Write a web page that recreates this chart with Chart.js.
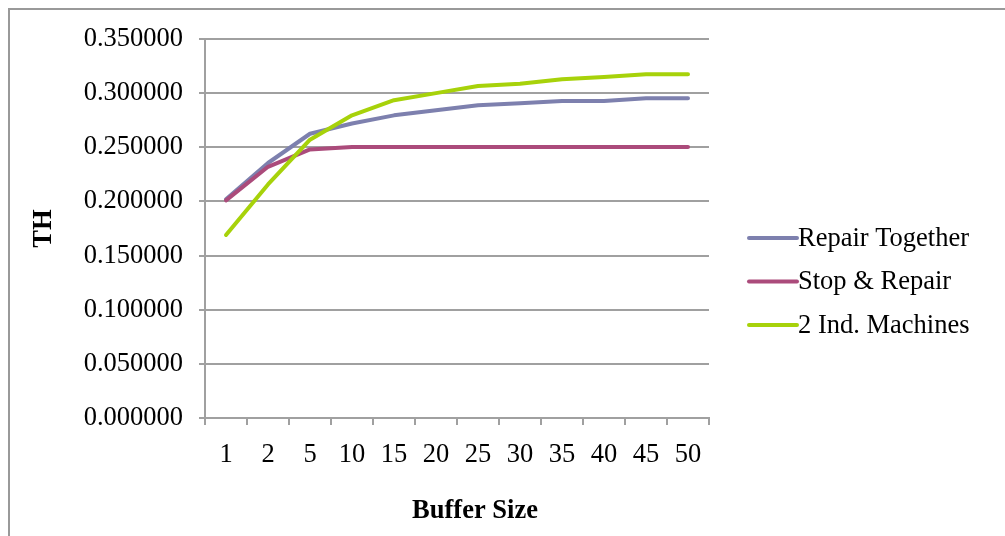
<!DOCTYPE html>
<html>
<head>
<meta charset="utf-8">
<script src="https://cdn.jsdelivr.net/npm/chart.js@4/dist/chart.umd.min.js"></script>
<style>
  html, body { margin: 0; padding: 0; background: #fff; }
  #wrap { position: relative; width: 1005px; height: 536px; }
</style>
</head>
<body>
<div id="wrap"><canvas id="c" width="1005" height="536"></canvas></div>
<script>
// Buffer sizes tested and throughput (TH) for each configuration
const bufferSizes = ['1', '2', '5', '10', '15', '20', '25', '30', '35', '40', '45', '50'];
const repairTogether = [0.2020, 0.2355, 0.2625, 0.2720, 0.2795, 0.2843, 0.2888, 0.2907, 0.2928, 0.2928, 0.2952, 0.2952];
const stopAndRepair  = [0.2010, 0.2320, 0.2480, 0.2503, 0.2503, 0.2503, 0.2503, 0.2503, 0.2503, 0.2503, 0.2503, 0.2503];
const indMachines    = [0.1690, 0.2157, 0.2570, 0.2795, 0.2935, 0.3000, 0.3066, 0.3086, 0.3128, 0.3150, 0.3174, 0.3174];
const seriesNames = ['Repair Together', 'Stop & Repair', '2 Ind. Machines'];
const seriesColors = ['#7d80ae', '#ab4b7b', '#a7d20a'];
const yTicks = { min: 0, max: 0.35, step: 0.05 };

const SERIF = "'Liberation Serif', 'Times New Roman', serif";
const FONT_SIZE = 26.5;
const GRID = '#a0a0a0';

// Outer frame of the chart object
const framePlugin = {
  id: 'frame',
  beforeDraw(chart) {
    const ctx = chart.ctx;
    ctx.save();
    ctx.fillStyle = '#fff';
    ctx.fillRect(0, 0, chart.width, chart.height);
    ctx.strokeStyle = '#999';
    ctx.lineWidth = 2;
    ctx.strokeRect(9, 9, chart.width + 20, chart.height + 20);
    ctx.restore();
  }
};

// Series key to the right of the plot and the horizontal axis caption
const keyPlugin = {
  id: 'key',
  afterDraw(chart) {
    const ctx = chart.ctx;
    const area = chart.chartArea;
    ctx.save();
    ctx.font = FONT_SIZE + 'px ' + SERIF;
    ctx.textBaseline = 'middle';
    ctx.textAlign = 'left';
    const x0 = area.right + 40;
    const firstRow = area.top + 199;
    chart.data.datasets.forEach((ds, i) => {
      const y = firstRow + i * 43.5;
      ctx.strokeStyle = ds.borderColor;
      ctx.lineWidth = 4;
      ctx.lineCap = 'round';
      ctx.beginPath();
      ctx.moveTo(x0, y);
      ctx.lineTo(x0 + 48, y);
      ctx.stroke();
      ctx.fillStyle = '#000';
      ctx.fillText(ds.label, x0 + 49, y + 1);
    });
    ctx.font = 'bold ' + FONT_SIZE + 'px ' + SERIF;
    ctx.textAlign = 'center';
    ctx.fillText('Buffer Size', (area.left + area.right) / 2 + 18, 511);
    ctx.restore();
  }
};

const datasetValues = [repairTogether, stopAndRepair, indMachines];
const drawOrder = [2, 1, 0];

new Chart(document.getElementById('c'), {
  type: 'line',
  data: {
    labels: bufferSizes,
    datasets: datasetValues.map((vals, i) => ({
      label: seriesNames[i],
      data: vals,
      borderColor: seriesColors[i],
      backgroundColor: seriesColors[i],
      borderWidth: 4,
      borderCapStyle: 'round',
      borderJoinStyle: 'round',
      pointRadius: 0,
      tension: 0,
      fill: false,
      order: drawOrder[i]
    }))
  },
  options: {
    responsive: false,
    animation: false,
    events: [],
    layout: { padding: { left: 0, top: 39, right: 296, bottom: 0 } },
    plugins: { legend: { display: false }, tooltip: { enabled: false } },
    scales: {
      x: {
        type: 'category',
        offset: true,
        afterFit(s) { s.height = 118; },
        grid: { display: true, offset: true, drawOnChartArea: false, drawTicks: true, tickLength: 7, color: GRID, lineWidth: 2 },
        border: { display: true, color: GRID, width: 2 },
        ticks: { color: '#000', font: { family: SERIF, size: FONT_SIZE }, padding: 14, maxRotation: 0, autoSkip: false },
        title: { display: false }
      },
      y: {
        min: yTicks.min,
        max: yTicks.max,
        afterFit(s) { s.width = 205; },
        grid: { color: GRID, lineWidth: 2, drawTicks: true, tickLength: 6 },
        border: { display: true, color: GRID, width: 2 },
        ticks: {
          stepSize: yTicks.step,
          color: '#000',
          font: { family: SERIF, size: FONT_SIZE },
          padding: 16,
          callback: v => Number(v).toFixed(6)
        },
        title: {
          display: true,
          text: 'TH',
          color: '#000',
          font: { family: SERIF, size: FONT_SIZE, weight: 'bold' },
          padding: { top: 28, bottom: 0 }
        }
      }
    }
  },
  plugins: [framePlugin, keyPlugin]
});
</script>
</body>
</html>
